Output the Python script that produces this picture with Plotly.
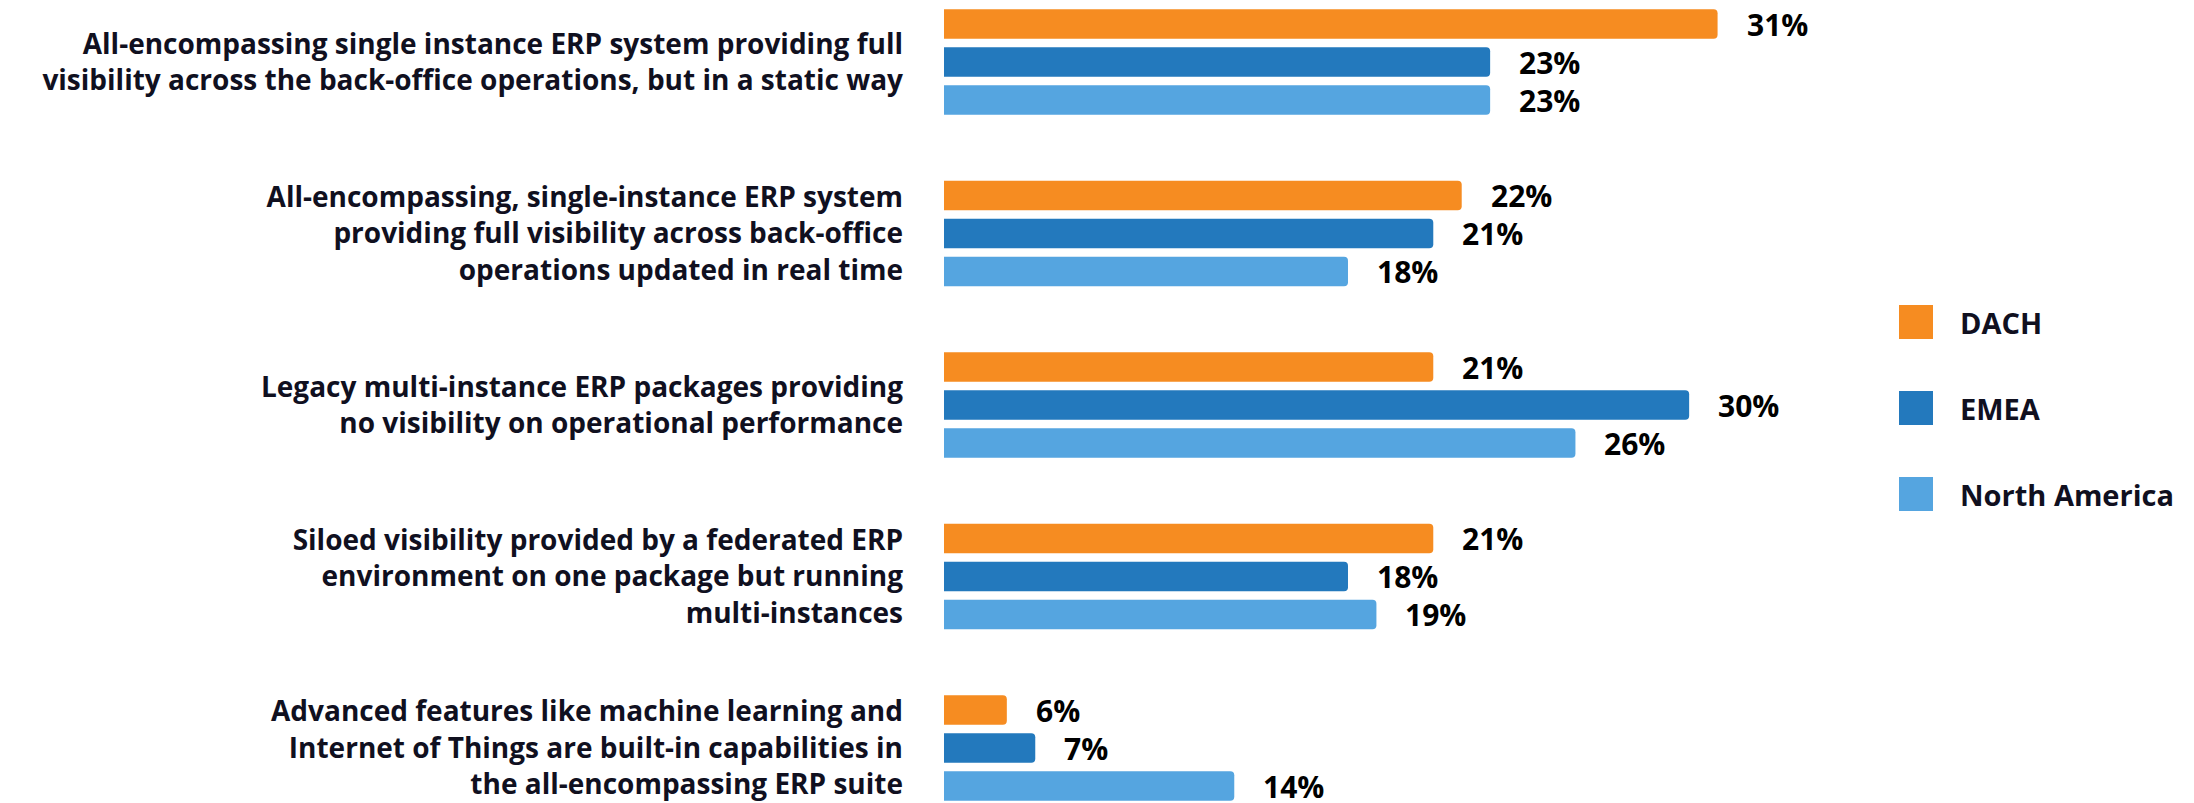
import plotly.graph_objects as go

categories = [
    "All-encompassing single instance ERP system providing full<br>visibility across the back-office operations, but in a static way",
    "All-encompassing, single-instance ERP system<br>providing full visibility across back-office<br>operations updated in real time",
    "Legacy multi-instance ERP packages providing<br>no visibility on operational performance",
    "Siloed visibility provided by a federated ERP<br>environment on one package but running<br>multi-instances",
    "Advanced features like machine learning and<br>Internet of Things are built-in capabilities in<br>the all-encompassing ERP suite",
]
series_names = ["DACH", "EMEA", "North America"]
dach = [31, 22, 21, 21, 6]
emea = [23, 21, 30, 18, 7]
north_america = [23, 18, 26, 19, 14]
series_values = [dach, emea, north_america]
colors = ["#F68C21", "#2379BD", "#55A5E0"]

W, H = 2194, 803
PL, PR = 944, 1803  # plot area pixels
TEXT = "#10101f"
FONT = "Open Sans"

fig = go.Figure()
for name, vals, col in zip(series_names, series_values, colors):
    fig.add_trace(go.Bar(
        y=categories, x=vals, name=name, orientation="h",
        marker=dict(color=col, line=dict(width=0), cornerradius=4),
        showlegend=False, hoverinfo="x+name",
    ))

# value labels
shifts = [38, 0, -38]
for vals, ys in zip(series_values, shifts):
    for c, v in zip(categories, vals):
        fig.add_annotation(
            x=v, y=c, xref="x", yref="y", text=f"{v}%", showarrow=False,
            xanchor="left", yanchor="middle", xshift=27, yshift=ys,
            font=dict(family=FONT, size=30, color="#000000", weight=700),
        )

def px2x(px):
    return (px - PL) / (PR - PL)

def py2y(py):
    return 1 - py / H

# custom legend
leg_y = [322, 408, 494]
for name, col, cy in zip(series_names, colors, leg_y):
    fig.add_shape(type="rect", xref="paper", yref="paper",
                  x0=px2x(1899), x1=px2x(1933), y0=py2y(cy + 17), y1=py2y(cy - 17),
                  fillcolor=col, line=dict(width=0), layer="above")
    fig.add_annotation(x=px2x(1958), y=py2y(cy), xref="paper", yref="paper",
                       text=name, showarrow=False, xanchor="left", yanchor="middle",
                       font=dict(family=FONT, size=29, color=TEXT, weight=700))

pitch = 171.5
fig.update_layout(
    width=W, height=H,
    margin=dict(l=PL, r=W - PR, t=0, b=0, autoexpand=False),
    paper_bgcolor="white", plot_bgcolor="white",
    barmode="group", bargap=1 - 3 * 38 / pitch, bargroupgap=1 - 29.5 / 38,
    xaxis=dict(range=[3.79, 3.79 + (PR - PL) / 28.43], visible=False, fixedrange=True),
    yaxis=dict(
        range=[4 + (H - 748) / pitch, -62 / pitch],
        showgrid=False, zeroline=False, showline=False, ticks="",
        ticklabelstandoff=40,
        tickfont=dict(family=FONT, size=28, color=TEXT, weight=700),
    ),
)

fig.write_html(
    "out.html",
    config={"displayModeBar": False},
    post_script="document.body.style.margin='0';document.body.style.overflow='hidden';",
)
